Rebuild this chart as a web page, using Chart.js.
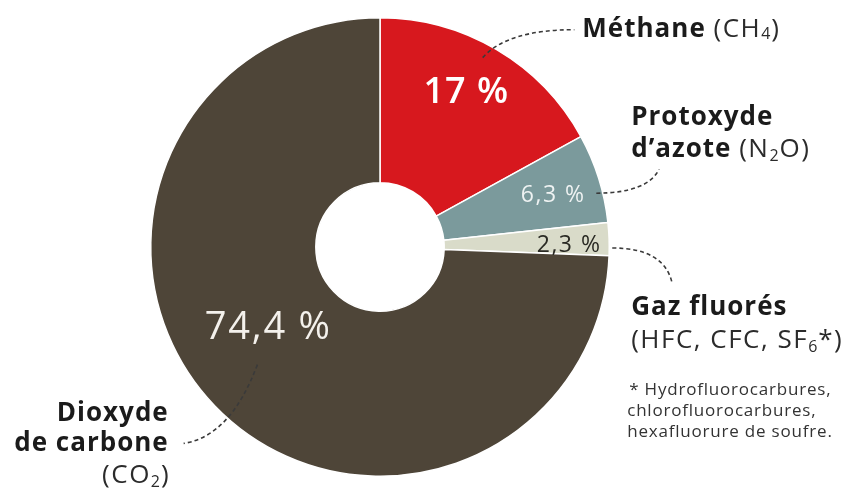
<!DOCTYPE html>
<html><head><meta charset="utf-8">
<script src="https://cdn.jsdelivr.net/npm/chart.js@4"></script>
<style>html,body{margin:0;padding:0;background:#fff}#wrap{width:850px;height:494px;position:relative}</style>
</head><body><div id="wrap"><canvas id="c" width="850" height="494"></canvas></div>
<script>
const categories = ["Méthane (CH4)", "Protoxyde d'azote (N2O)", "Gaz fluorés", "Dioxyde de carbone (CO2)"];
const values = [17, 6.3, 2.3, 74.4];
const valueLabels = ["17 %", "6,3 %", "2,3 %", "74,4 %"];
const colors = ["#d7181e", "#7b9a9c", "#d9dbc9", "#4e4538"];
const FONT = "'Open Sans', 'Noto Sans', sans-serif";

function rich(ctx, x, y, parts, align) {
  let w = 0;
  parts.forEach(p => { ctx.font = p.f; ctx.letterSpacing = (p.ls || 0) + 'px'; w += ctx.measureText(p.t).width; });
  let cx = align === 'right' ? x - w : x;
  ctx.textAlign = 'left'; ctx.textBaseline = 'alphabetic';
  parts.forEach(p => {
    ctx.font = p.f; ctx.letterSpacing = (p.ls || 0) + 'px'; ctx.fillStyle = p.c || '#1b1b1b';
    ctx.fillText(p.t, cx, y + (p.dy || 0));
    cx += ctx.measureText(p.t).width;
  });
  ctx.letterSpacing = '0px';
}

const labelsPlugin = {
  id: 'labels',
  afterDatasetsDraw(chart) {
    const ctx = chart.ctx;
    const arcs = chart.getDatasetMeta(0).data;
    const a0 = arcs[0];
    const cx = a0.x, cy = a0.y, R = a0.outerRadius;
    const P = (dx, dy) => [cx + dx * R / 230, cy + dy * R / 230];
    ctx.save();
    // in-slice labels
    const inl = [
      {i: 0, off: [86, -155], f: "600 36px " + FONT, c: '#ffffff', ls: 1},
      {i: 1, off: [173, -52], f: "500 23px " + FONT, c: '#eef2f2', ls: 1.5},
      {i: 2, off: [189, -2], f: "500 23px " + FONT, c: '#2a2a24', ls: 1.5},
      {i: 3, off: [-113, 81], f: "500 38px " + FONT, c: '#f4f1ec', ls: 1.8}
    ];
    ctx.textBaseline = 'middle';
    inl.forEach(l => {
      const [x, y] = P(l.off[0], l.off[1]);
      ctx.font = l.f; ctx.fillStyle = l.c; ctx.letterSpacing = l.ls + 'px';
      const w = ctx.measureText(valueLabels[l.i]).width;
      ctx.textAlign = 'left';
      ctx.fillText(valueLabels[l.i], x - w / 2 + l.ls / 2, y);
    });
    ctx.letterSpacing = '0px';
    // connectors
    ctx.strokeStyle = '#3a3a3a'; ctx.lineWidth = 1.6; ctx.setLineDash([4, 3]);
    const curve = (s, c, e) => {
      const [sx, sy] = P(...s), [qx, qy] = P(...c), [ex, ey] = P(...e);
      ctx.beginPath(); ctx.moveTo(sx, sy); ctx.quadraticCurveTo(qx, qy, ex, ey); ctx.stroke();
    };
    curve([103, -190], [128, -218], [195, -218]);
    curve([217, -54], [268, -54], [280, -78]);
    curve([233, 1], [285, 1], [293, 36]);
    curve([-123, 118], [-150, 190], [-197, 197]);
    ctx.setLineDash([]);
    // outside labels
    const B = "700 26px " + FONT, Rg = "400 26px " + FONT, S = "400 16px " + FONT;
    const dk = '#2b2b2b';
    let [x, y] = P(203, -211);
    rich(ctx, x, y, [{t: 'Méthane ', f: B, ls: 1}, {t: '(CH', f: Rg, c: dk, ls: 1.5}, {t: '4', f: S, dy: 2, c: dk, ls: 1}, {t: ')', f: Rg, c: dk}]);
    [x, y] = P(252, -122);
    rich(ctx, x, y, [{t: 'Protoxyde', f: B, ls: 1}]);
    [x, y] = P(252, -90);
    rich(ctx, x, y, [{t: 'd’azote ', f: B, ls: 1}, {t: '(N', f: Rg, c: dk, ls: 1.5}, {t: '2', f: S, dy: 4, c: dk, ls: 1}, {t: 'O)', f: Rg, c: dk, ls: 1.5}]);
    [x, y] = P(252, 68);
    rich(ctx, x, y, [{t: 'Gaz fluorés', f: B, ls: 1}]);
    [x, y] = P(252, 101);
    rich(ctx, x, y, [{t: '(HFC, CFC, SF', f: Rg, c: dk, ls: 1.5}, {t: '6', f: S, dy: 4, c: dk, ls: 1}, {t: '*)', f: Rg, c: dk, ls: 1.5}]);
    const F = "400 17px " + FONT;
    [x, y] = P(250, 148); rich(ctx, x, y, [{t: '* Hydrofluorocarbures,', f: F, c: '#333', ls: 0.8}]);
    [x, y] = P(248, 170); rich(ctx, x, y, [{t: 'chlorofluorocarbures,', f: F, c: '#333', ls: 0.8}]);
    [x, y] = P(248, 191); rich(ctx, x, y, [{t: 'hexafluorure de soufre.', f: F, c: '#333', ls: 0.8}]);
    [x, y] = P(-212, 175); rich(ctx, x, y, [{t: 'Dioxyde', f: B, ls: 1}], 'right');
    [x, y] = P(-212, 205); rich(ctx, x, y, [{t: 'de carbone', f: B, ls: 1}], 'right');
    [x, y] = P(-212, 237); rich(ctx, x, y, [{t: '(CO', f: Rg, c: dk, ls: 1.5}, {t: '2', f: S, dy: 4, c: dk, ls: 1}, {t: ')', f: Rg, c: dk}], 'right');
    ctx.restore();
  }
};

new Chart(document.getElementById('c'), {
  type: 'doughnut',
  data: {
    labels: categories,
    datasets: [{
      data: values,
      backgroundColor: colors,
      borderColor: '#ffffff',
      borderWidth: 1.5,
      hoverOffset: 0
    }]
  },
  options: {
    responsive: false,
    animation: false,
    cutout: '28%',
    layout: {padding: {left: 150, right: 240, top: 17, bottom: 17}},
    plugins: {legend: {display: false}, tooltip: {enabled: false}}
  },
  plugins: [labelsPlugin]
});
</script></body></html>
